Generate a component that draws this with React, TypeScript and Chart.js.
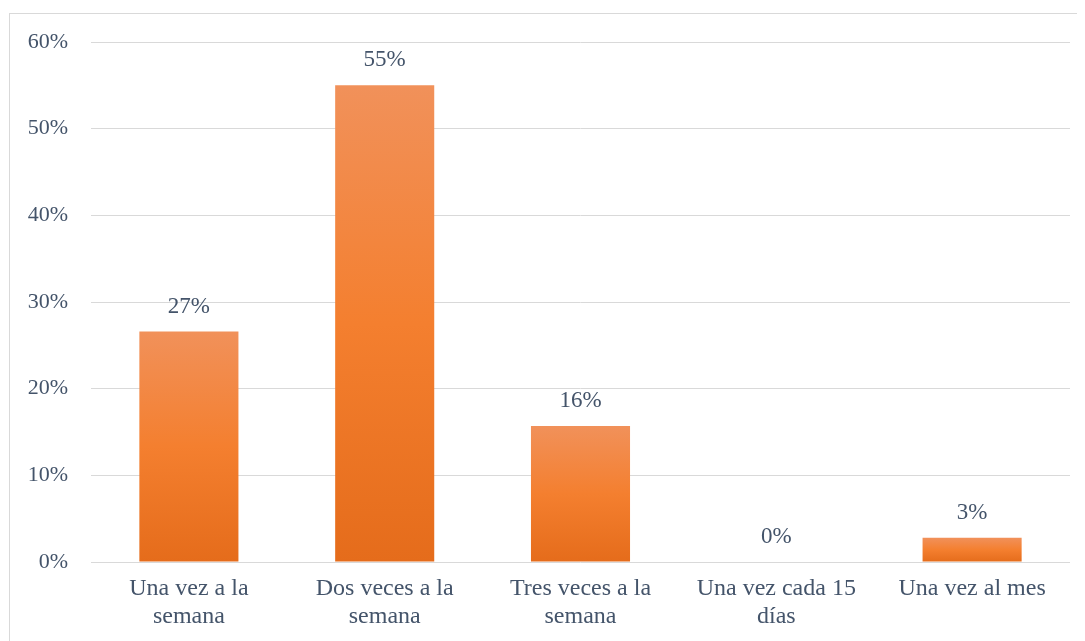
import React, { useEffect, useRef } from "react";
import { Chart, registerables } from "chart.js";

Chart.register(...registerables);

const categories: string[][] = [
  ["Una vez a la", "semana"],
  ["Dos veces a la", "semana"],
  ["Tres veces a la", "semana"],
  ["Una vez cada 15", "días"],
  ["Una vez al mes"],
];
const values: number[] = [26.6, 55.0, 15.7, 0, 2.8];
const yTicks: number[] = [0, 10, 20, 30, 40, 50, 60];

const FONT = "'Liberation Serif', 'Times New Roman', serif";
const TEXT = "#44546A";

const valueLabels = {
  id: "valueLabels",
  afterDatasetsDraw(chart: any) {
    const ctx = chart.ctx;
    const meta = chart.getDatasetMeta(0);
    ctx.save();
    ctx.font = `23px ${FONT}`;
    ctx.fillStyle = TEXT;
    ctx.textAlign = "center";
    ctx.textBaseline = "middle";
    meta.data.forEach((el: any, i: number) => {
      const v = values[i];
      ctx.fillText(`${Math.round(v)}%`, el.x, el.y - 25);
    });
    ctx.restore();
  },
};

export default function App() {
  const ref = useRef<HTMLCanvasElement>(null);
  useEffect(() => {
    if (!ref.current) return;
    const chart = new Chart(ref.current, {
      type: "bar",
      data: {
        labels: categories,
        datasets: [
          {
            data: values,
            backgroundColor: (c: any) => {
              const ch = c.chart;
              if (!ch.chartArea || c.raw === undefined) return "#F47F2F";
              const ys = ch.scales.y;
              const top = ys.getPixelForValue(c.raw);
              const bottom = ys.getPixelForValue(0);
              if (bottom - top < 1) return "#F47F2F";
              const g = ch.ctx.createLinearGradient(0, top, 0, bottom);
              g.addColorStop(0, "#F1915A");
              g.addColorStop(0.5, "#F47F2F");
              g.addColorStop(1, "#E56C1B");
              return g;
            },
            borderWidth: 0,
            barPercentage: 0.506,
            categoryPercentage: 1,
          },
        ],
      },
      options: {
        animation: false,
        responsive: false,
        maintainAspectRatio: false,
        layout: { padding: { top: 28, right: 13, left: 0, bottom: 0 } },
        plugins: { legend: { display: false }, tooltip: { enabled: false } },
        scales: {
          x: {
            grid: { display: false, drawTicks: false },
            border: { display: false },
            ticks: {
              padding: 13,
              color: TEXT,
              font: { family: FONT, size: 24, lineHeight: 1.17 },
              maxRotation: 0,
              autoSkip: false,
            },
            afterFit: (s: any) => {
              s.height = 78;
            },
          },
          y: {
            min: 0,
            max: 60,
            afterBuildTicks: (s: any) => {
              s.ticks = yTicks.map((v) => ({ value: v }));
            },
            grid: { color: "#D9D9D9", drawTicks: false, lineWidth: 1 },
            border: { display: false },
            ticks: {
              padding: 23,
              color: TEXT,
              font: { family: FONT, size: 22 },
              callback: (v: any) => `${v}%`,
            },
            afterFit: (s: any) => {
              s.width = 81;
              s.paddingTop = 0;
              s.paddingBottom = 0;
            },
          },
        },
      },
      plugins: [valueLabels],
    });
    return () => chart.destroy();
  }, []);
  return (
    <div
      style={{
        position: "relative",
        left: 1,
        top: 5,
        width: 1073,
        height: 640,
        border: "1px solid #D9D9D9",
        background: "#fff",
      }}
    >
      <canvas ref={ref} width={1073} height={626} style={{ display: "block" }} />
    </div>
  );
}
